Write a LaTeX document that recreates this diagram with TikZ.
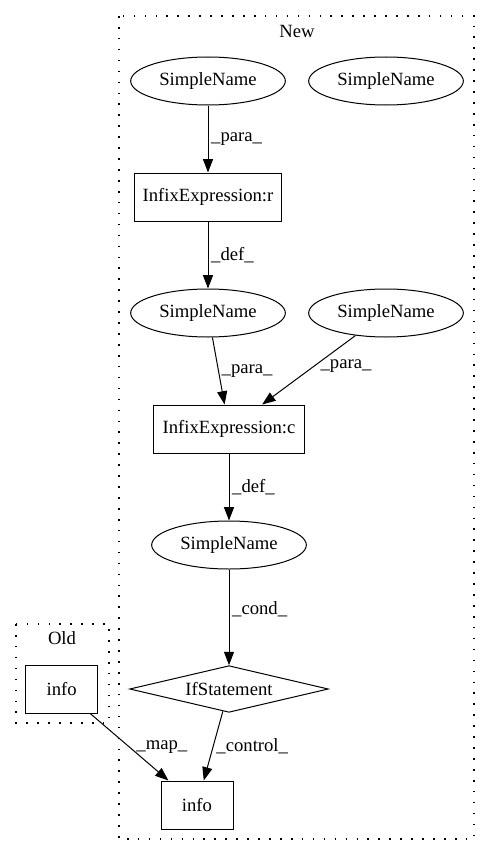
\documentclass[tikz,border=0pt]{standalone}
\usepackage{fontspec}
\setmainfont{Liberation Serif}
\usetikzlibrary{positioning,shapes.geometric}
\usetikzlibrary{arrows.meta}

\begin{document}
\begin{tikzpicture}[x=0.75pt,y=-0.75pt,
         on grid,
         every node/.style = {font=\fontsize{14}{17}\selectfont},
         sname/.style = {draw,ellipse,line width=0.75pt,inner sep=0pt,
         minimum width=116pt,minimum height=36pt},
         expr/.style = {draw,rectangle,line width=0.75pt,inner xsep=6.5pt,
         minimum width=54pt,minimum height=36pt},
         ifstmt/.style = {draw,diamond,aspect=4.25,line width=0.75pt,
         inner sep=0pt,minimum width=149pt,minimum height=35pt},
         flow/.style = {line width=0.75pt,-{Triangle[length=10pt,width=7.5pt]}},
         elab/.style = {anchor=west,inner sep=2pt},
         cluster/.style = {line width=0.8pt,dash pattern=on 1.2pt off 7pt}
]
   \useasboundingbox (0,0) rectangle (491,856);

   % clusters
   \draw[cluster] (119,16) rectangle (474,839);
   \node (newlbl) at (297,31) {New};
   \draw[cluster] (16,624) rectangle (109,723);
   \node (oldlbl) at (62,638) {Old};

   % new version
   \node[sname]                                  (sn1) at (208,81) {SimpleName};
   \node[sname,right=133.5pt of sn1]             (sn2) {SimpleName};
   \node[expr,below=87pt of sn1]                 (ir)  {InfixExpression:r};
   \node[sname,below=87pt of ir]                 (sn3) {SimpleName};
   \node[sname,right=133.5pt of sn3]             (sn4) {SimpleName};
   \node[expr,below right=87pt and 15.75pt of sn3] (ic) {InfixExpression:c};
   \node[sname,below=87pt of ic]                 (sn5) {SimpleName};
   \node[ifstmt,below=108pt of sn5]              (if)  {IfStatement};
   \node[expr,below left=87pt and 24pt of if]    (info1) {info};

   % old version
   \node[expr,left=125.5pt of if]                (info0) {info};

   \draw[flow] (sn1) -- node[elab] {\_para\_} (ir);
   \draw[flow] (ir) -- node[elab] {\_def\_} (sn3);
   \draw[flow] (sn3) -- node[elab] {\_para\_} (ic);
   \draw[flow] (sn4) -- node[elab,pos=0.45,xshift=3pt] {\_para\_} (ic);
   \draw[flow] (ic) -- node[elab] {\_def\_} (sn5);
   \draw[flow] (sn5) -- node[elab,pos=0.42] {\_cond\_} (if);
   \draw[flow] (if) -- node[elab] {\_control\_} (info1);
   \draw[flow] (info0) -- node[elab,xshift=3pt] {\_map\_} (info1);
\end{tikzpicture}
\end{document}
